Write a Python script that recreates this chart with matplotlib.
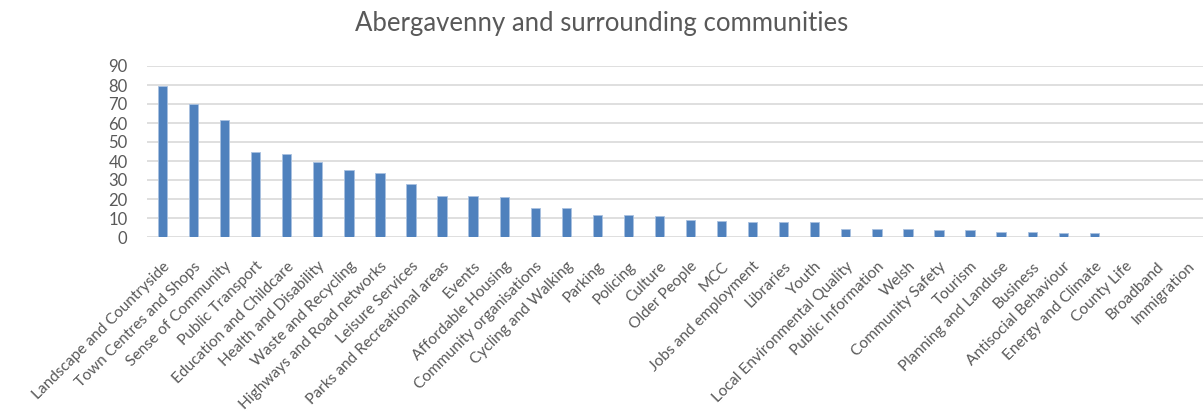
import matplotlib
matplotlib.use('Agg')
import matplotlib.pyplot as plt
import numpy as np

categories = ['Landscape and Countryside', 'Town Centres and Shops', 'Sense of Community',
              'Public Transport', 'Education and Childcare', 'Health and Disability',
              'Waste and Recycling', 'Highways and Road networks', 'Leisure Services',
              'Parks and Recreational areas', 'Events', 'Affordable Housing',
              'Community organisations', 'Cycling and Walking', 'Parking', 'Policing',
              'Culture', 'Older People', 'MCC', 'Jobs and employment', 'Libraries', 'Youth',
              'Local Environmental Quality', 'Public Information', 'Welsh', 'Community Safety',
              'Tourism', 'Planning and Landuse', 'Business', 'Antisocial Behaviour',
              'Energy and Climate', 'County Life', 'Broadband', 'Immigration']
values = [79.6, 69.8, 61.4, 44.5, 43.6, 39.5, 35.4, 33.8, 28.0, 21.6, 21.6, 20.8,
          15.2, 15.2, 11.8, 11.8, 10.9, 9.2, 8.4, 7.7, 7.7, 7.7, 4.3, 4.3, 4.3, 3.5,
          3.5, 2.7, 2.7, 1.9, 1.9, 0, 0, 0]
yticks = list(range(0, 100, 10))

plt.rcParams['font.family'] = ['Lato', 'DejaVu Sans']
fig = plt.figure(figsize=(12.03, 4.19), dpi=100)
ax = fig.add_axes([147 / 1203, 182 / 419, 1056 / 1203, 171 / 419])

x = np.arange(len(categories))
ax.bar(x, values, width=0.3, color='#4f81bd', edgecolor='#a9c1e0', linewidth=0.6, zorder=3)

ax.set_xlim(-0.5, len(categories) - 0.5)
ax.set_ylim(0, 90)
ax.set_yticks(yticks)
ax.set_yticklabels([str(t) for t in yticks], fontsize=12, color='#595959')
ax.yaxis.grid(True, color='#d9d9d9', linewidth=1.2, zorder=0)
ax.set_xticks(x)
ax.set_xticklabels(categories, rotation=45, ha='right', rotation_mode='anchor',
                   fontsize=11.2, color='#595959')
ax.tick_params(axis='both', length=0)
ax.tick_params(axis='y', pad=14)
ax.tick_params(axis='x', pad=16)
for s in ax.spines.values():
    s.set_visible(False)

fig.text(0.5, 1 - 24 / 419, 'Abergavenny and surrounding communities',
         ha='center', va='center', fontsize=18.5, color='#595959')

fig.savefig('out.png', dpi=100, facecolor='white')
